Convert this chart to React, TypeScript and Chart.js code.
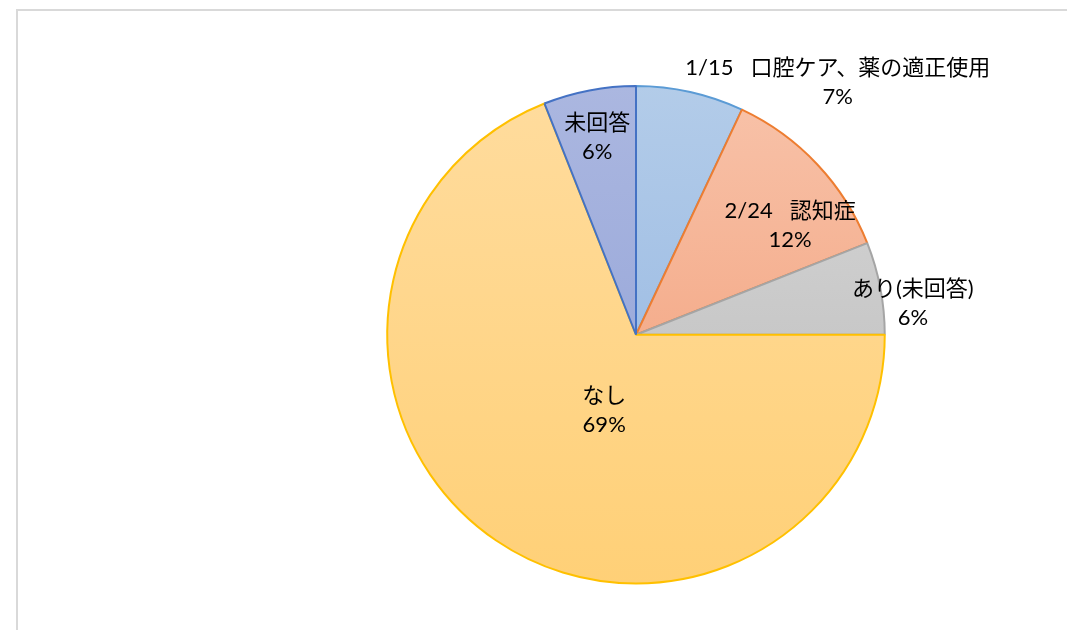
import React, { useEffect, useRef } from "react";
import { Chart, registerables } from "chart.js";

Chart.register(...registerables);

const categories = [
  "1/15   口腔ケア、薬の適正使用",
  "2/24   認知症",
  "あり(未回答)",
  "なし",
  "未回答",
];
const values = [7, 12, 6, 69, 6];

// gradient stops (top, bottom) and borders per slice
const fillTop = ["#b3cce9", "#f8c3aa", "#d8d8d8", "#ffdc9e", "#abb7e0"];
const fillBottom = ["#8fb2e0", "#f19870", "#b8b8b8", "#ffd077", "#8e9fd6"];
const borderColors = ["#5b9bd5", "#ed7d31", "#a5a5a5", "#ffc000", "#4472c4"];

// label placement: [angle from 12 o'clock in degrees, radius fraction]
const labelPlacement: [number, number][] = [
  [38.6, 1.3],
  [54.6, 0.76],
  [83.6, 1.12],
  [202.8, 0.33],
  [348.9, 0.81],
];

const FONT = '22px "Lato", "Noto Sans CJK JP", sans-serif';

const framePlugin = {
  id: "frame",
  beforeDraw(chart: any) {
    const ctx = chart.ctx;
    ctx.save();
    ctx.fillStyle = "#ffffff";
    ctx.fillRect(0, 0, chart.width, chart.height);
    ctx.strokeStyle = "#d9d9d9";
    ctx.lineWidth = 2;
    ctx.strokeRect(17, 10, 3000, 3000);
    ctx.restore();
  },
};

const labelPlugin = {
  id: "pieLabels",
  afterDatasetsDraw(chart: any) {
    const ctx = chart.ctx;
    const meta = chart.getDatasetMeta(0);
    const total = values.reduce((a, b) => a + b, 0);
    ctx.save();
    ctx.font = FONT;
    ctx.fillStyle = "#000000";
    ctx.textAlign = "center";
    ctx.textBaseline = "middle";
    meta.data.forEach((arc: any, i: number) => {
      const { x, y, outerRadius } = arc.getProps(["x", "y", "outerRadius"], true);
      const [deg, frac] = labelPlacement[i];
      const a = (deg * Math.PI) / 180;
      const cx = x + Math.sin(a) * outerRadius * frac;
      const cy = y - Math.cos(a) * outerRadius * frac;
      const pct = Math.round((values[i] / total) * 100) + "%";
      ctx.fillText(categories[i], cx, cy - 14.5);
      ctx.fillText(pct, cx, cy + 14.5);
    });
    ctx.restore();
  },
};

export default function App() {
  const ref = useRef<HTMLCanvasElement | null>(null);
  useEffect(() => {
    if (!ref.current) return;
    const chart = new Chart(ref.current, {
      type: "pie",
      data: {
        labels: categories,
        datasets: [
          {
            data: values,
            backgroundColor: (c: any) => {
              const area = c.chart.chartArea;
              const i = c.dataIndex;
              if (!area || i === undefined) return fillTop[i ?? 0];
              const g = c.chart.ctx.createLinearGradient(0, area.top, 0, area.bottom);
              g.addColorStop(0, fillTop[i]);
              g.addColorStop(1, fillBottom[i]);
              return g;
            },
            borderColor: borderColors,
            borderWidth: 2,
          },
        ],
      },
      options: {
        responsive: false,
        animation: false,
        layout: { padding: { top: 85, bottom: 45.5, left: 386, right: 181 } },
        plugins: {
          legend: { display: false },
          tooltip: { enabled: false },
          title: { display: false },
        },
      },
      plugins: [framePlugin, labelPlugin],
    });
    return () => chart.destroy();
  }, []);
  return (
    <div style={{ position: "fixed", top: 0, left: 0, width: 1067, height: 630, overflow: "hidden", background: "#fff" }}>
      <canvas ref={ref} width={1067} height={630} style={{ display: "block" }} />
    </div>
  );
}
